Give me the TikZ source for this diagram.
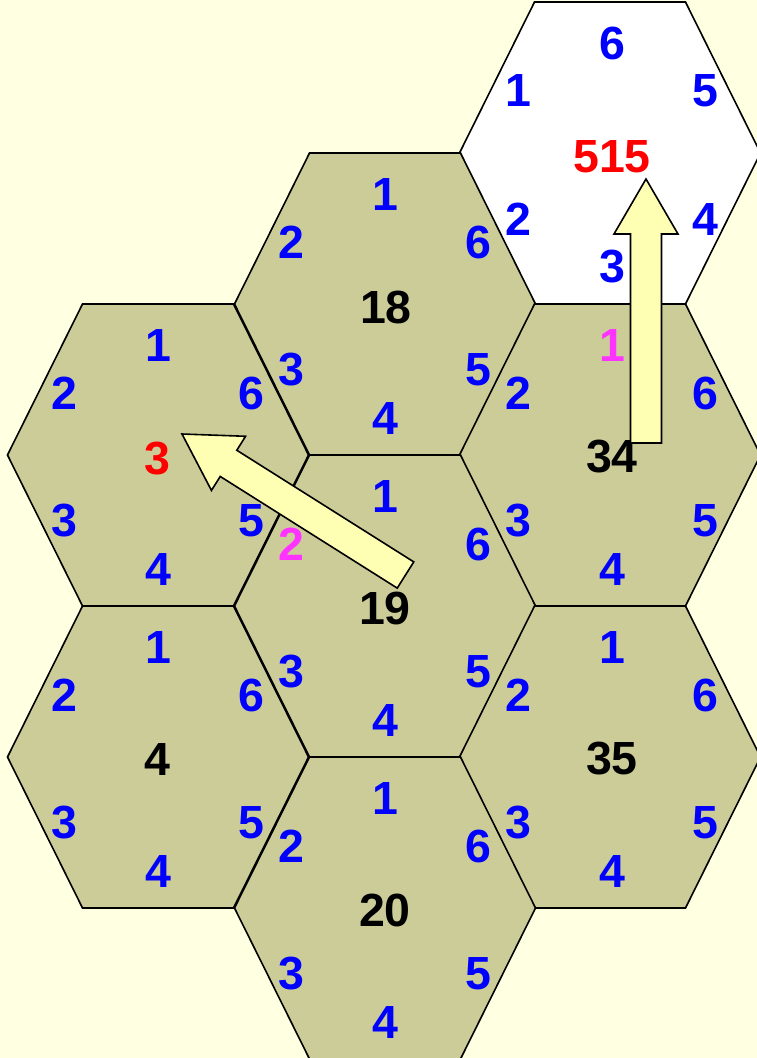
\documentclass[tikz,border=0pt]{standalone}
\usepackage{fontspec}
\setmainfont{Liberation Sans}
\usetikzlibrary{calc}
\definecolor{bgyellow}{RGB}{255,255,225}
\definecolor{hexolive}{RGB}{204,204,153}
\definecolor{arrowfill}{RGB}{255,255,180}
\definecolor{labblue}{RGB}{0,0,255}
\definecolor{labmag}{RGB}{255,51,255}
\definecolor{labred}{RGB}{255,0,0}
\tikzset{
  hexline/.style={draw=black, line width=1.6pt, line join=miter},
  edgelab/.style={font=\fontsize{46.5}{50}\selectfont\bfseries, text=labblue, inner sep=0pt},
  centerlab/.style={font=\fontsize{46.5}{50}\selectfont\bfseries, text=black, inner sep=0pt},
  arrowbody/.style={draw=black, line width=1.6pt, fill=arrowfill, line join=miter},
}
% hexagon cell: #1 name, #2 x, #3 y, #4 fill
\newcommand\hexcell[4]{%
  \coordinate (#1) at (#2,#3);
  \draw[hexline, fill=#4] ($(#1)+(-150.5,0)$) -- ++(75,-151) -- ++(151,0) -- ++(75,151)
     -- ++(-75,151) -- ++(-151,0) -- cycle;
}
% edge labels: #1 hex name, #2 top, #3 upper-left, #4 lower-left, #5 bottom,
% #6 lower-right, #7 upper-right, #8 horizontal shift of the label ring
\newcommand\edgelabels[8]{%
  \coordinate (#1-lc) at ($(#1)+(#8,0)$);
  \node[edgelab] (#1-t)  at ($(#1-lc)+(0,-110)$) {#2};
  \node[edgelab] (#1-ul) at ($(#1-lc)+(-93.5,-62)$) {#3};
  \node[edgelab] (#1-ll) at ($(#1-lc)+(-93.5,66)$) {#4};
  \node[edgelab] (#1-b)  at ($(#1-lc)+(0,114)$) {#5};
  \node[edgelab] (#1-lr) at ($(#1-lc)+(93.5,66)$) {#6};
  \node[edgelab] (#1-ur) at ($(#1-lc)+(93.5,-62)$) {#7};
}
% block arrow from #1 (tail) to #2 (tip)
\newcommand\blockarrow[2]{%
  \coordinate (#1-hb) at ($(#2)!55pt!(#1)$);
  \draw[arrowbody] ($(#1)!15.5pt!90:(#2)$) -- ($(#1-hb)!15.5pt!-90:(#1)$)
     -- ($(#1-hb)!32pt!-90:(#1)$) -- (#2) -- ($(#1-hb)!32pt!90:(#1)$)
     -- ($(#1-hb)!15.5pt!90:(#1)$) -- ($(#1)!15.5pt!-90:(#2)$) -- cycle;
}
\begin{document}
\begin{tikzpicture}[x=1pt, y=-1pt]
  \fill[bgyellow] (0,0) rectangle (757,1058);
  \useasboundingbox (0,0) rectangle (757,1058);
  \clip (0,0) rectangle (757,1058);
  % hexagons
  \hexcell{h515}{610}{153}{white}
  \hexcell{h18}{385}{304}{hexolive}
  \hexcell{h3}{158}{455}{hexolive}
  \hexcell{h34}{610}{455}{hexolive}
  \hexcell{h19}{385}{606}{hexolive}
  \hexcell{h4}{158}{757}{hexolive}
  \hexcell{h35}{610}{757}{hexolive}
  \hexcell{h20}{385}{908}{hexolive}
  % center labels
  \node[centerlab, text=labred] (c515) at ($(h515)+(2,4)$) {515};
  \node[centerlab] (c18) at ($(h18)+(1,3)$) {18};
  \node[centerlab, text=labred] (c3) at ($(h3)+(-1,4)$) {3};
  \node[centerlab] (c34) at ($(h34)+(2,2)$) {34};
  \node[centerlab] (c19) at ($(h19)+(0,2)$) {19};
  \node[centerlab] (c4) at ($(h4)+(-1,2)$) {4};
  \node[centerlab] (c35) at ($(h35)+(2,2)$) {35};
  \node[centerlab] (c20) at ($(h20)+(0,2)$) {20};
  % edge labels
  \edgelabels{h515}{6}{1}{2}{3}{4}{5}{2}
  \edgelabels{h18}{1}{2}{3}{4}{5}{6}{0}
  \edgelabels{h3}{1}{2}{3}{4}{5}{6}{0}
  \edgelabels{h34}{\textcolor{labmag}{1}}{2}{3}{4}{5}{6}{2}
  \edgelabels{h19}{1}{\textcolor{labmag}{2}}{3}{4}{5}{6}{0}
  \edgelabels{h4}{1}{2}{3}{4}{5}{6}{0}
  \edgelabels{h35}{1}{2}{3}{4}{5}{6}{2}
  \edgelabels{h20}{1}{2}{3}{4}{5}{6}{0}
  % arrows
  \coordinate (upTail) at (646,443);
  \coordinate (upTip) at (646,179);
  \blockarrow{upTail}{upTip}
  \coordinate (diagTail) at (405.5,575);
  \coordinate (diagTip) at (182,434);
  \blockarrow{diagTail}{diagTip}
\end{tikzpicture}
\end{document}
